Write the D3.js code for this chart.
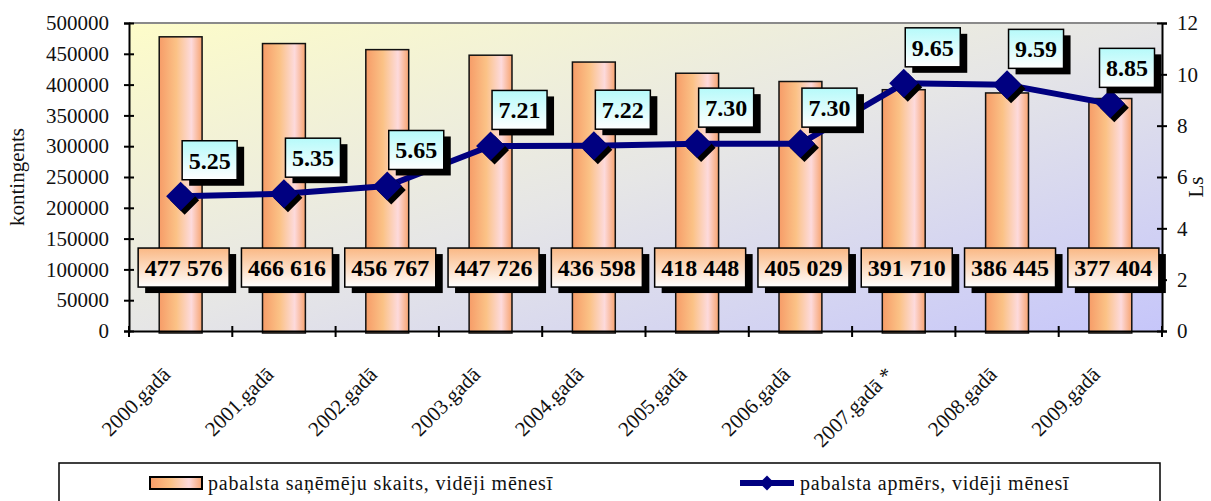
<!DOCTYPE html>
<html>
<head>
<meta charset="utf-8">
<script src="https://cdn.jsdelivr.net/npm/d3@7"></script>
<style>
  body { margin: 0; background: #fff; }
  svg { display: block; font-family: "Liberation Serif", "Times New Roman", serif; }
</style>
</head>
<body>
<div id="chart"></div>
<script>
// data
const years = ["2000.gadā", "2001.gadā", "2002.gadā", "2003.gadā", "2004.gadā",
  "2005.gadā", "2006.gadā", "2007.gadā *", "2008.gadā", "2009.gadā"];
const recipients = [477576, 466616, 456767, 447726, 436598, 418448, 405029, 391710, 386445, 377404];
const benefit = [5.25, 5.35, 5.65, 7.21, 7.22, 7.30, 7.30, 9.65, 9.59, 8.85];
const leftTicks = [0, 50000, 100000, 150000, 200000, 250000, 300000, 350000, 400000, 450000, 500000];
const rightTicks = [0, 2, 4, 6, 8, 10, 12];
const seriesNames = ["pabalsta saņēmēju skaits, vidēji mēnesī", "pabalsta apmērs, vidēji mēnesī"];
const axisTitles = ["kontingents", "Ls"];

const W = 1211, H = 501;
const margin = { top: 23, right: 49, bottom: 170, left: 129 };
const x0 = margin.left, x1 = W - margin.right;
const y0 = H - margin.bottom, y1 = margin.top;

const svg = d3.select("#chart").append("svg")
  .attr("width", W).attr("height", H);

const defs = svg.append("defs");
const grad = (id, stops, dir) => {
  const g = defs.append("linearGradient").attr("id", id)
    .attr("x1", dir[0]).attr("y1", dir[1]).attr("x2", dir[2]).attr("y2", dir[3]);
  stops.forEach(s => g.append("stop").attr("offset", s[0]).attr("stop-color", s[1]));
};
grad("bgGrad", [[0, "#fdfcc9"], [0.5, "#e6e6e6"], [1, "#c6c6fa"]], [0, 0, 1, 1]);
grad("barGrad", [[0, "#f69c68"], [0.4, "#fbc286"], [0.75, "#fddadc"], [1, "#f7a470"]], [0, 0, 1, 0]);
grad("cyanGrad", [[0, "#b6fafa"], [1, "#ffffff"]], [0, 0, 0, 1]);
grad("peachGrad", [[0, "#fab884"], [1, "#ffffff"]], [0, 0, 0, 1]);

// scales
const x = d3.scaleBand().domain(years).range([x0, x1]).padding(0);
const yL = d3.scaleLinear().domain([0, 500000]).range([y0, y1]);
const yR = d3.scaleLinear().domain([0, 12]).range([y0, y1]);
const cx = d => x(d) + x.bandwidth() / 2;

// plot background
svg.append("rect")
  .attr("x", x0).attr("y", y1)
  .attr("width", x1 - x0).attr("height", y0 - y1)
  .attr("fill", "url(#bgGrad)");
svg.append("line")
  .attr("x1", x0).attr("x2", x1).attr("y1", y1).attr("y2", y1)
  .attr("stroke", "#8a8a8a").attr("stroke-width", 2);

// bars
const barW = x.bandwidth() * 0.415;
svg.selectAll(".bar")
  .data(years)
  .enter().append("rect")
  .attr("class", "bar")
  .attr("x", d => cx(d) - barW / 2)
  .attr("y", (d, i) => yL(recipients[i]))
  .attr("width", barW)
  .attr("height", (d, i) => y0 - yL(recipients[i]) + 2)
  .attr("fill", "url(#barGrad)")
  .attr("stroke", "#111")
  .attr("stroke-width", 1.5);

// left axis
const axL = svg.append("g")
  .attr("transform", `translate(${x0},0)`)
  .call(d3.axisLeft(yL).tickValues(leftTicks).tickFormat(d3.format("d")).tickSize(5).tickPadding(15));
axL.selectAll(".tick line").attr("x2", -5).attr("x1", 5);

// right axis
const axR = svg.append("g")
  .attr("transform", `translate(${x1},0)`)
  .call(d3.axisRight(yR).tickValues(rightTicks).tickSize(5).tickPadding(10));
axR.selectAll(".tick line").attr("x2", 5).attr("x1", -5);

// bottom axis, ticks at category boundaries
const axB = svg.append("g")
  .attr("transform", `translate(0,${y0})`)
  .call(d3.axisBottom(x).tickSize(0));
axB.selectAll(".tick text")
  .attr("y", 0).attr("dy", 0)
  .attr("text-anchor", "end")
  .attr("transform", "translate(-9,45) rotate(-45)");
axB.selectAll(".bnd")
  .data(years.map(d => x(d)).concat([x1]))
  .enter().append("line")
  .attr("class", "bnd")
  .attr("x1", d => d).attr("x2", d => d)
  .attr("y1", -5).attr("y2", 6)
  .attr("stroke", "#000").attr("stroke-width", 2);

[axL, axR, axB].forEach(g => {
  g.select(".domain").attr("stroke", "#000").attr("stroke-width", 2);
  g.selectAll(".tick line").attr("stroke", "#000").attr("stroke-width", 2);
  g.selectAll(".tick text").attr("font-size", 21).attr("fill", "#111")
    .attr("font-family", "Liberation Serif, Times New Roman, serif");
});

// axis titles
svg.append("text")
  .attr("transform", `translate(24,${(y0 + y1) / 2}) rotate(-90)`)
  .attr("text-anchor", "middle").attr("font-size", 21).attr("fill", "#111")
  .text(axisTitles[0]);
svg.append("text")
  .attr("transform", `translate(1203,${(y0 + y1) / 2 + 10}) rotate(-90)`)
  .attr("text-anchor", "middle").attr("font-size", 21).attr("fill", "#111")
  .text(axisTitles[1]);

// line series
const line = d3.line()
  .x(d => cx(d))
  .y((d, i) => yR(benefit[i]));
svg.append("path")
  .datum(years)
  .attr("d", line)
  .attr("fill", "none")
  .attr("stroke", "#000080")
  .attr("stroke-width", 6)
  .attr("stroke-linejoin", "round");

const diamond = d3.symbol().type(d3.symbolSquare).size(420);
const marks = svg.selectAll(".mk")
  .data(years)
  .enter().append("g")
  .attr("class", "mk")
  .attr("transform", (d, i) => `translate(${cx(d)},${yR(benefit[i])})`);
marks.append("path").attr("d", diamond).attr("fill", "#000")
  .attr("transform", "translate(4,4) rotate(45)");
marks.append("path").attr("d", diamond).attr("fill", "#000080")
  .attr("transform", "rotate(45)");

// boxed labels with black drop shadow
function boxLabel(g, txt, fill) {
  const t = g.append("text")
    .attr("text-anchor", "middle").attr("dy", "0.35em")
    .attr("font-size", 24).attr("font-weight", "bold").attr("fill", "#000")
    .text(txt);
  const w = t.node().getComputedTextLength() + 13, h = 39;
  g.insert("rect", "text").attr("x", -w / 2 + 7).attr("y", -h / 2 + 6)
    .attr("width", w).attr("height", h).attr("fill", "#000");
  g.insert("rect", "text").attr("x", -w / 2).attr("y", -h / 2)
    .attr("width", w).attr("height", h).attr("fill", fill)
    .attr("stroke", "#000").attr("stroke-width", 1.5);
}

const fmtCount = v => d3.format(",")(v).replace(/,/g, " ");
svg.selectAll(".blab")
  .data(years)
  .enter().append("g")
  .attr("class", "blab")
  .attr("transform", d => `translate(${cx(d) + 3},${yL(103000)})`)
  .each(function (d, i) { boxLabel(d3.select(this), fmtCount(recipients[i]), "url(#peachGrad)"); });

svg.selectAll(".llab")
  .data(years)
  .enter().append("g")
  .attr("class", "llab")
  .attr("transform", (d, i) => `translate(${Math.min(cx(d) + 29, x1 - 35)},${yR(benefit[i]) - 36})`)
  .each(function (d, i) { boxLabel(d3.select(this), d3.format(".2f")(benefit[i]), "url(#cyanGrad)"); });

// legend
const leg = svg.append("g");
leg.append("rect")
  .attr("x", 59).attr("y", 463).attr("width", 1101).attr("height", 60)
  .attr("fill", "#fff").attr("stroke", "#000").attr("stroke-width", 1.5);
leg.append("rect")
  .attr("x", 150).attr("y", 477).attr("width", 52).attr("height", 12)
  .attr("fill", "url(#barGrad)").attr("stroke", "#000").attr("stroke-width", 2);
leg.append("text")
  .attr("x", 208).attr("y", 490).attr("font-size", 20).attr("letter-spacing", 0.8)
  .attr("fill", "#111").text(seriesNames[0]);
leg.append("line")
  .attr("x1", 740).attr("x2", 794).attr("y1", 483).attr("y2", 483)
  .attr("stroke", "#000080").attr("stroke-width", 6);
leg.append("path")
  .attr("d", d3.symbol().type(d3.symbolSquare).size(110))
  .attr("transform", "translate(767,483) rotate(45)")
  .attr("fill", "#000080");
leg.append("text")
  .attr("x", 800).attr("y", 490).attr("font-size", 20).attr("letter-spacing", 0.8)
  .attr("fill", "#111").text(seriesNames[1]);
</script>
</body>
</html>
